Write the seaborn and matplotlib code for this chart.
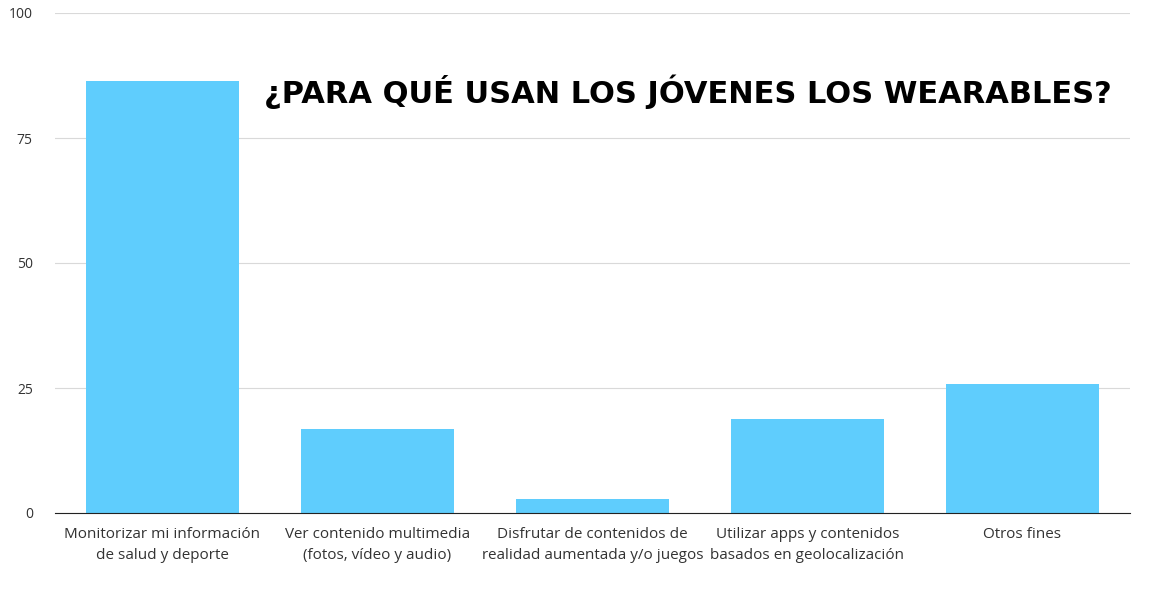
import matplotlib
matplotlib.use("Agg")
import matplotlib.pyplot as plt
import seaborn as sns
import pandas as pd

categories = ["Monitorizar mi información\nde salud y deporte",
              "Ver contenido multimedia\n(fotos, vídeo y audio)",
              "Disfrutar de contenidos de\nrealidad aumentada y/o juegos",
              "Utilizar apps y contenidos\nbasados en geolocalización",
              "Otros fines"]
values = [86.4, 16.8, 2.8, 18.8, 25.8]
yticks = [0, 25, 50, 75, 100]
title = "¿Para qué usan los jóvenes los wearables?"

df = pd.DataFrame({"cat": categories, "val": values})
fig = plt.figure(figsize=(11.52, 5.9), dpi=100)
ax = fig.add_axes([55/1152, 1-513/590, 1075/1152, 500/590])
sns.barplot(data=df, x="cat", y="val", color="#5FCDFD", saturation=1, width=0.71, ax=ax)
ax.set_xlim(-0.5, 4.5)
ax.set_ylim(0, 100)
ax.set_yticks(yticks)
ax.grid(axis="y", color="#d9d9d9", linewidth=0.8)
ax.set_axisbelow(True)
for s in ["top", "right", "left"]:
    ax.spines[s].set_visible(False)
ax.spines["bottom"].set_color("#222222")
ax.tick_params(axis="x", length=0, labelsize=11, labelcolor="#333333", pad=10)
ax.tick_params(axis="y", length=0, labelsize=10, labelcolor="#333333", pad=16)
for t in ax.get_xticklabels() + ax.get_yticklabels():
    t.set_fontfamily("Open Sans")
for t in ax.get_xticklabels():
    t.set_linespacing(1.6)
ax.set_xlabel("")
ax.set_ylabel("")
fig.text(1112/1152, 1-92/590, title.upper(), ha="right", va="center",
         fontsize=22, fontweight="bold", fontfamily="Liberation Sans Narrow", color="black")
fig.savefig("out.png", dpi=100)
